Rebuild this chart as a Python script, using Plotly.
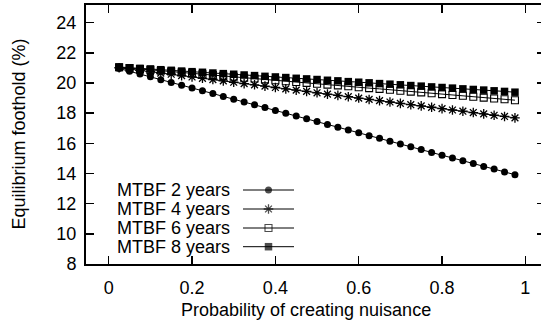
import plotly.graph_objects as go

# ---- data ----
prob = [0.025, 0.05, 0.075, 0.1, 0.125, 0.15, 0.175, 0.2, 0.225, 0.25,
        0.275, 0.3, 0.325, 0.35, 0.375, 0.4, 0.425, 0.45, 0.475, 0.5,
        0.525, 0.55, 0.575, 0.6, 0.625, 0.65, 0.675, 0.7, 0.725, 0.75,
        0.775, 0.8, 0.825, 0.85, 0.875, 0.9, 0.925, 0.95, 0.975]

mtbf2 = [20.96, 20.78, 20.59, 20.41, 20.22, 20.04, 19.85, 19.67, 19.48, 19.30,
         19.11, 18.92, 18.74, 18.55, 18.37, 18.18, 18.00, 17.81, 17.63, 17.44,
         17.25, 17.07, 16.88, 16.70, 16.51, 16.33, 16.14, 15.96, 15.77, 15.59,
         15.40, 15.21, 15.03, 14.84, 14.66, 14.47, 14.29, 14.10, 13.92]

mtbf4 = [21.01, 20.93, 20.84, 20.75, 20.66, 20.58, 20.49, 20.40, 20.31, 20.23,
         20.14, 20.05, 19.96, 19.88, 19.79, 19.70, 19.61, 19.53, 19.44, 19.35,
         19.26, 19.18, 19.09, 19.00, 18.91, 18.83, 18.74, 18.65, 18.56, 18.48,
         18.39, 18.30, 18.21, 18.13, 18.04, 17.95, 17.86, 17.78, 17.69]

mtbf6 = [21.04, 20.99, 20.93, 20.87, 20.81, 20.76, 20.70, 20.64, 20.58, 20.53,
         20.47, 20.41, 20.35, 20.30, 20.24, 20.18, 20.12, 20.07, 20.01, 19.95,
         19.89, 19.84, 19.78, 19.72, 19.66, 19.61, 19.55, 19.49, 19.43, 19.38,
         19.32, 19.26, 19.20, 19.15, 19.09, 19.03, 18.97, 18.92, 18.86]

mtbf8 = [21.06, 21.01, 20.97, 20.93, 20.88, 20.84, 20.79, 20.75, 20.71, 20.66,
         20.62, 20.58, 20.53, 20.49, 20.44, 20.40, 20.36, 20.31, 20.27, 20.23,
         20.18, 20.14, 20.09, 20.05, 20.01, 19.96, 19.92, 19.88, 19.83, 19.79,
         19.74, 19.70, 19.66, 19.61, 19.57, 19.53, 19.48, 19.44, 19.39]

series_names = ["MTBF 2 years", "MTBF 4 years", "MTBF 6 years", "MTBF 8 years"]
series_values = [mtbf2, mtbf4, mtbf6, mtbf8]

x_ticks = [0, 0.2, 0.4, 0.6, 0.8, 1]
y_ticks = [8, 10, 12, 14, 16, 18, 20, 22, 24]

x_title = "Probability of creating nuisance"
y_title = "Equilibrium foothold (%)"

# ---- styling ----
W, H = 541, 321
ML, MR, MT, MB = 86, 0, 5, 57
FONT = "Liberation Sans, Arial, Helvetica, sans-serif"
FS = 18

markers = [
    dict(symbol="circle", size=7, color="black", line=dict(width=0)),
    dict(symbol="asterisk-open", size=8, color="black", line=dict(width=1.3, color="black")),
    dict(symbol="square-open", size=7, color="black", line=dict(width=1.1, color="black")),
    dict(symbol="square", size=7.5, color="black", line=dict(width=0)),
]

fig = go.Figure()
for name, vals, mk in zip(series_names, series_values, markers):
    fig.add_trace(go.Scatter(
        x=prob, y=vals, mode="lines+markers", name=name,
        line=dict(color="black", width=1), marker=mk, showlegend=False,
        xaxis="x", yaxis="y"))

pw = W - ML - MR
ph = H - MT - MB

def px2paper_x(px):
    return (px - ML) / pw

def px2paper_y(py):
    return (H - MB - py) / ph

# legend: right-aligned text, line sample with marker on the right
leg_rows_y = [190, 209, 228, 246.7]
leg_text_right = 232
leg_line = (243, 294)
annotations = []
for name, mk, ry in zip(series_names, markers, leg_rows_y):
    annotations.append(dict(
        text=name, xref="paper", yref="paper",
        x=px2paper_x(leg_text_right), y=px2paper_y(ry),
        xanchor="right", yanchor="middle", showarrow=False,
        font=dict(family=FONT, size=FS, color="black")))
    fig.add_trace(go.Scatter(
        x=[leg_line[0], (leg_line[0] + leg_line[1]) / 2, leg_line[1]],
        y=[ry, ry, ry], mode="lines+markers",
        line=dict(color="black", width=1),
        marker=dict(symbol=mk["symbol"], size=[0, mk["size"], 0], color="black",
                    line=mk["line"]),
        showlegend=False, hoverinfo="skip", xaxis="x3", yaxis="y3"))

annotations.append(dict(
    text=x_title, xref="paper", yref="paper",
    x=px2paper_x(306), y=px2paper_y(310),
    xanchor="center", yanchor="middle", showarrow=False,
    font=dict(family=FONT, size=FS, color="black")))
annotations.append(dict(
    text=y_title, xref="paper", yref="paper", textangle=-90,
    x=px2paper_x(18), y=px2paper_y(134.5),
    xanchor="center", yanchor="middle", showarrow=False,
    font=dict(family=FONT, size=FS, color="black")))

x_lo, x_hi = -0.0545, 1.0375
y_lo, y_hi = 8, 25.17

fig.update_layout(
    width=W, height=H,
    margin=dict(l=ML, r=MR, t=MT, b=MB, pad=0),
    paper_bgcolor="white", plot_bgcolor="white",
    font=dict(family=FONT, size=FS, color="black"),
    showlegend=False,
    xaxis=dict(range=[x_lo, x_hi], tickvals=x_ticks, ticks="inside", ticklen=8,
               tickwidth=1.5, tickcolor="black", showline=True, linecolor="black",
               linewidth=2, mirror="ticks", showgrid=False, zeroline=False,
               ticklabelstandoff=6,
               tickfont=dict(family=FONT, size=FS, color="black")),
    yaxis=dict(range=[y_lo, y_hi], tickvals=y_ticks, ticks="inside", ticklen=8,
               tickwidth=1.5, tickcolor="black", showline=True, linecolor="black",
               linewidth=2, mirror=False, showgrid=False, zeroline=False,
               ticklabelstandoff=4,
               tickfont=dict(family=FONT, size=FS, color="black")),
    yaxis2=dict(range=[y_lo, y_hi], tickvals=y_ticks, ticks="inside", ticklen=4,
                tickwidth=1.5, tickcolor="black", showline=False, showgrid=False,
                zeroline=False, showticklabels=False, overlaying="y", side="right"),
    xaxis3=dict(range=[ML, W - MR], visible=False, overlaying="x", domain=[0, 1]),
    yaxis3=dict(range=[H - MB, MT], visible=False, overlaying="y"),
    annotations=annotations,
)
fig.add_trace(go.Scatter(x=[None], y=[None], yaxis="y2", xaxis="x",
                         showlegend=False, hoverinfo="skip"))

fig.write_html("out.html",
               config={"displayModeBar": False, "staticPlot": True},
               post_script="document.body.style.margin='0';document.body.style.overflow='hidden';")
